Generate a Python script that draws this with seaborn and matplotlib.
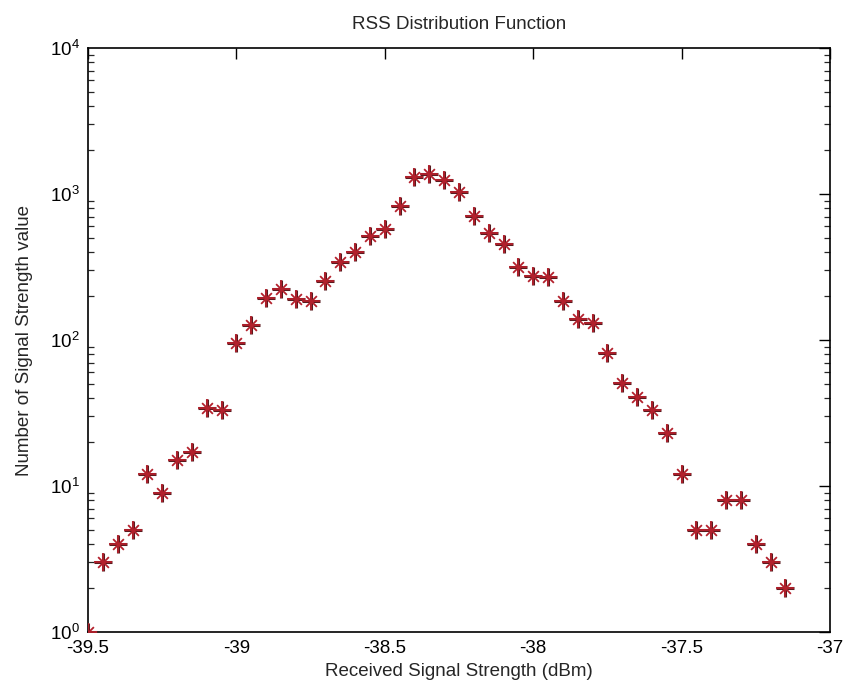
import numpy as np
import pandas as pd
import matplotlib
matplotlib.use("Agg")
import matplotlib.pyplot as plt
import seaborn as sns

# received signal strength bins (dBm) and counts
rss = [-39.50, -39.45, -39.40, -39.35, -39.30, -39.25, -39.20, -39.15, -39.10, -39.05,
       -39.00, -38.95, -38.90, -38.85, -38.80, -38.75, -38.70, -38.65, -38.60, -38.55,
       -38.50, -38.45, -38.40, -38.35, -38.30, -38.25, -38.20, -38.15, -38.10, -38.05,
       -38.00, -37.95, -37.90, -37.85, -37.80, -37.75, -37.70, -37.65, -37.60, -37.55,
       -37.50, -37.45, -37.40, -37.35, -37.30, -37.25, -37.20, -37.15]
counts = [1, 3, 4, 5, 12, 9, 15, 17, 34, 33,
          96, 127, 195, 224, 190, 185, 254, 342, 403, 515,
          573, 831, 1314, 1371, 1247, 1028, 707, 538, 452, 318,
          276, 269, 185, 139, 131, 82, 51, 41, 33, 23,
          12, 5, 5, 8, 8, 4, 3, 2]

df = pd.DataFrame({"rss": rss, "count": counts})

sns.set_style("white")
plt.rcParams['font.family'] = ['Liberation Sans', 'DejaVu Sans']

fig = plt.figure(figsize=(8.43, 6.94), dpi=100)
ax = fig.add_axes([0.1044, 0.0893, 0.8802, 0.8415])

# matlab style asterisk: plus + cross, dark edge under a red core
sns.scatterplot(data=df, x="rss", y="count", marker="+", s=150, color="#5a1a1e",
                linewidth=2.2, ax=ax, zorder=3)
sns.scatterplot(data=df, x="rss", y="count", marker="+", s=150, color="#b3202c",
                linewidth=1.3, ax=ax, zorder=4)
sns.scatterplot(data=df, x="rss", y="count", marker="x", s=60, color="#b3202c",
                linewidth=1.3, ax=ax, zorder=4)

ax.set_yscale("log")
ax.set_xlim(-39.5, -37)
ax.set_ylim(1, 1e4)
ax.set_xticks([-39.5, -39, -38.5, -38, -37.5, -37])
ax.set_xticklabels(["-39.5", "-39", "-38.5", "-38", "-37.5", "-37"])

for side in ax.spines.values():
    side.set_color("black")
    side.set_linewidth(1.2)

ax.tick_params(which="major", direction="in", length=8, width=1, top=True, right=True,
               labelsize=13.5, colors="black", pad=6)
ax.tick_params(which="minor", direction="in", length=4.5, width=0.9, top=False, right=True,
               left=True)
ax.tick_params(axis="x", which="minor", bottom=False, top=False)

ax.set_title("RSS Distribution Function", fontsize=13.5, pad=14)
ax.set_xlabel("Received Signal Strength (dBm)", fontsize=13.5, labelpad=4)
ax.set_ylabel("Number of Signal Strength value", fontsize=13.5, labelpad=12)

fig.savefig("out.png", dpi=100)
